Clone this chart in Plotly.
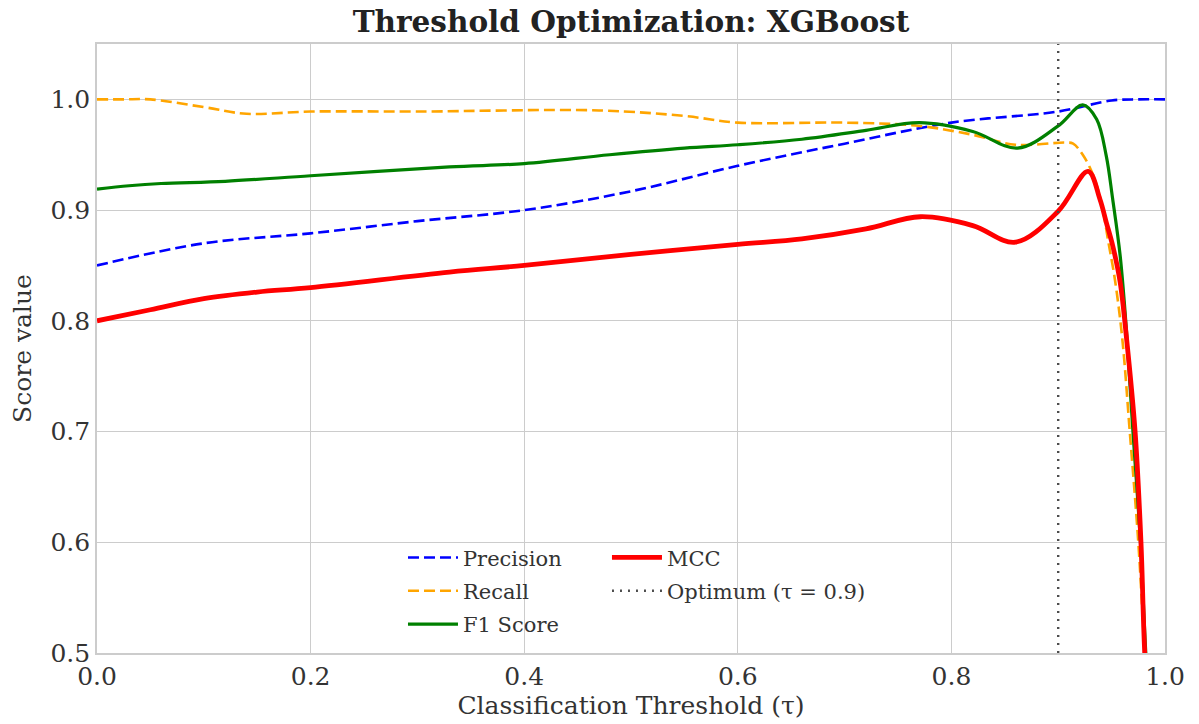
import plotly.graph_objects as go

# Threshold sweep results for the XGBoost classifier
precision_tau = [0.0, 0.1, 0.2, 0.3, 0.4, 0.5, 0.6, 0.7, 0.8, 0.9, 0.95, 0.975, 1.0]
precision_val = [0.850, 0.870, 0.879, 0.890, 0.900, 0.917, 0.940, 0.960, 0.979, 0.989, 0.999, 1.000, 1.000]

recall_tau = [0.0, 0.025, 0.05, 0.1, 0.14, 0.2, 0.3, 0.47, 0.55, 0.6, 0.7, 0.77, 0.82, 0.86, 0.907,
              0.914, 0.923, 0.933, 0.941, 0.947, 0.953, 0.96, 0.967, 0.975, 0.981, 1.0]
recall_val = [1.000, 1.000, 1.000, 0.993, 0.987, 0.989, 0.989, 0.990, 0.985, 0.979, 0.979, 0.976, 0.968,
              0.959, 0.961, 0.960, 0.950, 0.931, 0.904, 0.871, 0.838, 0.784, 0.700, 0.600, 0.500, 0.200]

f1_tau = [0.0, 0.03, 0.06, 0.12, 0.2, 0.33, 0.4, 0.48, 0.55, 0.6, 0.66, 0.72, 0.77, 0.82,
          0.862, 0.9, 0.923, 0.936, 0.945, 0.951, 0.958, 0.964, 0.970, 0.977, 0.982, 1.0]
f1_val = [0.919, 0.922, 0.924, 0.926, 0.931, 0.939, 0.942, 0.950, 0.956, 0.959, 0.964, 0.972,
          0.979, 0.971, 0.956, 0.976, 0.995, 0.982, 0.949, 0.910, 0.859, 0.790, 0.700, 0.600, 0.500, 0.200]

mcc_tau = [0.0, 0.05, 0.1, 0.15, 0.2, 0.33, 0.4, 0.5, 0.6, 0.66, 0.72, 0.771, 0.82, 0.86,
           0.9, 0.928, 0.939, 0.945, 0.951, 0.958, 0.964, 0.972, 0.9775, 0.981, 1.0]
mcc_val = [0.800, 0.810, 0.820, 0.826, 0.830, 0.844, 0.850, 0.860, 0.869, 0.874, 0.883, 0.894,
           0.886, 0.871, 0.899, 0.935, 0.910, 0.889, 0.868, 0.835, 0.784, 0.700, 0.600, 0.500, 0.150]

optimum_tau = 0.9

x_ticks = [0.0, 0.2, 0.4, 0.6, 0.8, 1.0]
y_ticks = [0.5, 0.6, 0.7, 0.8, 0.9, 1.0]

FONT = "DejaVu Serif"
GRID = "#cccccc"

fig = go.Figure()

fig.add_trace(go.Scatter(
    x=precision_tau, y=precision_val, mode="lines", name="Precision",
    line=dict(color="blue", width=2.6, dash="11px,5px", shape="spline", smoothing=1.0),
    legend="legend", legendgroup="p",
))
fig.add_trace(go.Scatter(
    x=recall_tau, y=recall_val, mode="lines", name="Recall",
    line=dict(color="orange", width=2.6, dash="11px,5px", shape="spline", smoothing=1.0),
    legend="legend", legendgroup="r",
))
fig.add_trace(go.Scatter(
    x=f1_tau, y=f1_val, mode="lines", name="F1 Score",
    line=dict(color="green", width=3.2, shape="spline", smoothing=1.0),
    legend="legend", legendgroup="f",
))
fig.add_trace(go.Scatter(
    x=mcc_tau, y=mcc_val, mode="lines", name="MCC",
    line=dict(color="red", width=4.8, shape="spline", smoothing=1.0),
    legend="legend2", legendgroup="m",
))
fig.add_trace(go.Scatter(
    x=[optimum_tau, optimum_tau], y=[0.5, 1.05], mode="lines",
    name=f"Optimum (τ = {optimum_tau})",
    line=dict(color="#4d4d4d", width=2.4, dash="2px,6px"),
    legend="legend2", legendgroup="o",
))

legend_style = dict(
    bgcolor="rgba(0,0,0,0)", borderwidth=0,
    font=dict(family=FONT, size=21, color="#333333"),
    orientation="v", xanchor="left", yanchor="top",
    tracegroupgap=3, itemwidth=50,
)

fig.update_layout(
    width=1199, height=724,
    margin=dict(l=97, r=34, t=44, b=69),
    paper_bgcolor="white", plot_bgcolor="white",
    font=dict(family=FONT, color="#333333"),
    title=dict(
        text="<b>Threshold Optimization: XGBoost</b>",
        x=0.5, xref="paper", xanchor="center",
        y=0.97, yref="container", yanchor="middle",
        font=dict(family=FONT, size=29.5, color="#222222"),
    ),
    legend=dict(x=0.2865, y=0.19, **legend_style),
    legend2=dict(x=0.4775, y=0.19, **legend_style),
    xaxis=dict(
        range=[0, 1], tickvals=x_ticks, tickformat=".1f",
        showgrid=True, gridcolor=GRID, gridwidth=1.3,
        showline=True, linecolor=GRID, linewidth=1.6, mirror=True,
        zeroline=False, ticks="",
        tickfont=dict(family=FONT, size=25, color="#333333"),
        title=dict(text="Classification Threshold (τ)", standoff=4,
                   font=dict(family=FONT, size=25, color="#333333")),
    ),
    yaxis=dict(
        range=[0.5, 1.05], tickvals=y_ticks, tickformat=".1f",
        showgrid=True, gridcolor=GRID, gridwidth=1.3,
        showline=True, linecolor=GRID, linewidth=1.6, mirror=True,
        zeroline=False, ticks="",
        tickfont=dict(family=FONT, size=25, color="#333333"),
        title=dict(text="Score value", standoff=12,
                   font=dict(family=FONT, size=25, color="#333333")),
    ),
)

fig.write_html("out.html")
